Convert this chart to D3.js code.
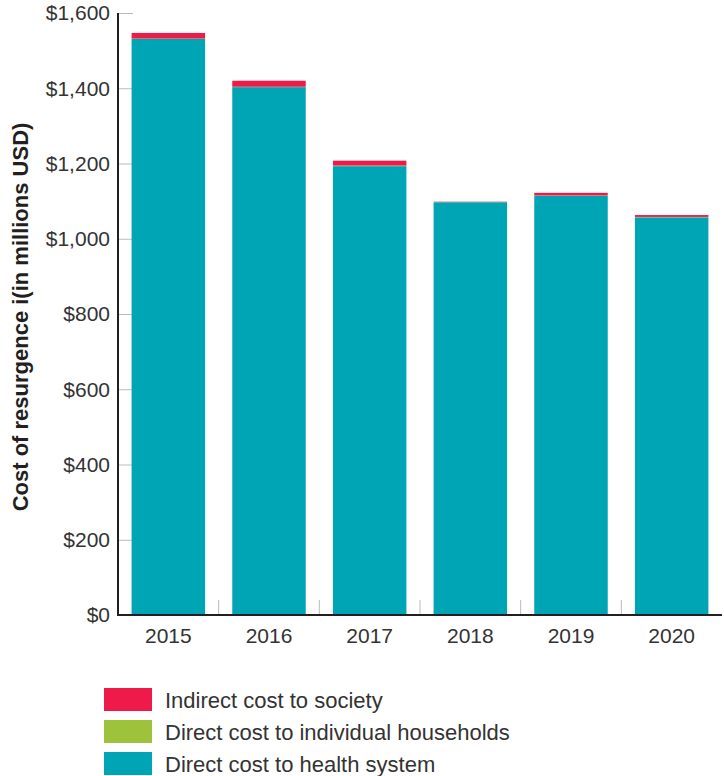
<!DOCTYPE html>
<html>
<head>
<meta charset="utf-8">
<script src="https://cdn.jsdelivr.net/npm/d3@7"></script>
<style>
  body { margin: 0; background: #fff; }
  svg { display: block; font-family: "Liberation Sans", Arial, sans-serif; }
</style>
</head>
<body>
<svg id="chart" width="724" height="776"></svg>
<script>
const years = ["2015", "2016", "2017", "2018", "2019", "2020"];
const healthSystem = [1531, 1403, 1193, 1097, 1114, 1057];
const households = [1, 1, 1.5, 0.5, 1, 1];
const indirect = [15, 16, 13, 1, 7, 5];
const seriesNames = ["Indirect cost to society", "Direct cost to individual households", "Direct cost to health system"];
const yTicks = [0, 200, 400, 600, 800, 1000, 1200, 1400, 1600];

const colors = {
  health: "#00a5b5",
  households: "#9dc33b",
  indirect: "#ee1a4a"
};

const svg = d3.select("#chart");
const plotLeft = 118, plotRight = 722, plotTop = 13, plotBottom = 615;

const x = d3.scaleBand().domain(years).range([plotLeft, plotRight]).paddingInner(0.27).paddingOuter(0.135);
const y = d3.scaleLinear().domain([0, 1600]).range([plotBottom, plotTop]);

const rows = years.map((yr, i) => ({
  year: yr,
  health: healthSystem[i],
  households: households[i],
  indirect: indirect[i]
}));
const stack = d3.stack().keys(["health", "households", "indirect"])(rows);

// y ticks: short grey marks inside the plot
const yAxis = svg.append("g")
  .attr("transform", `translate(${plotLeft},0)`)
  .call(d3.axisRight(y).tickValues(yTicks).tickSize(15).tickFormat(""));
yAxis.select(".domain").remove();
yAxis.selectAll(".tick line").attr("stroke", "#bbb");
yAxis.selectAll(".tick").filter(d => d === 0).remove();

svg.append("g").selectAll("text")
  .data(yTicks)
  .join("text")
  .attr("x", plotLeft - 8)
  .attr("y", d => y(d))
  .attr("dy", "0.35em")
  .attr("text-anchor", "end")
  .attr("font-size", 21)
  .attr("fill", "#333")
  .text(d => "$" + d3.format(",")(d));

// grey separators between bands
const step = x.step();
svg.append("g").selectAll("line")
  .data(years.slice(1))
  .join("line")
  .attr("x1", d => x(d) - (step - x.bandwidth()) / 2)
  .attr("x2", d => x(d) - (step - x.bandwidth()) / 2)
  .attr("y1", plotBottom)
  .attr("y2", plotBottom - 15)
  .attr("stroke", "#bbb");

// bars
svg.append("g").selectAll("g")
  .data(stack)
  .join("g")
  .attr("fill", d => colors[d.key])
  .selectAll("rect")
  .data(d => d)
  .join("rect")
  .attr("x", d => x(d.data.year))
  .attr("width", x.bandwidth())
  .attr("y", d => y(d[1]))
  .attr("height", d => y(d[0]) - y(d[1]));

// axis lines
svg.append("line")
  .attr("x1", plotLeft).attr("x2", plotLeft)
  .attr("y1", plotTop).attr("y2", plotBottom + 1)
  .attr("stroke", "#231f20").attr("stroke-width", 2);
svg.append("line")
  .attr("x1", plotLeft - 1).attr("x2", plotRight)
  .attr("y1", plotBottom).attr("y2", plotBottom)
  .attr("stroke", "#231f20").attr("stroke-width", 2);

// x labels
svg.append("g").selectAll("text")
  .data(years)
  .join("text")
  .attr("x", d => x(d) + x.bandwidth() / 2)
  .attr("y", plotBottom + 28)
  .attr("text-anchor", "middle")
  .attr("font-size", 21)
  .attr("fill", "#333")
  .text(d => d);

// y title
svg.append("text")
  .attr("transform", `translate(28,317) rotate(-90)`)
  .attr("text-anchor", "middle")
  .attr("font-size", 22)
  .attr("font-weight", "bold")
  .attr("fill", "#231f20")
  .text("Cost of resurgence i(in millions USD)");

// legend
const legendColors = [colors.indirect, colors.households, colors.health];
const legend = svg.append("g").selectAll("g")
  .data(seriesNames)
  .join("g")
  .attr("transform", (d, i) => `translate(104,${688 + i * 32})`);
legend.append("rect")
  .attr("width", 48).attr("height", 23)
  .attr("fill", (d, i) => legendColors[i]);
legend.append("text")
  .attr("x", 61).attr("y", 12)
  .attr("dy", "0.35em")
  .attr("font-size", 22)
  .attr("fill", "#333")
  .text(d => d);
</script>
</body>
</html>
